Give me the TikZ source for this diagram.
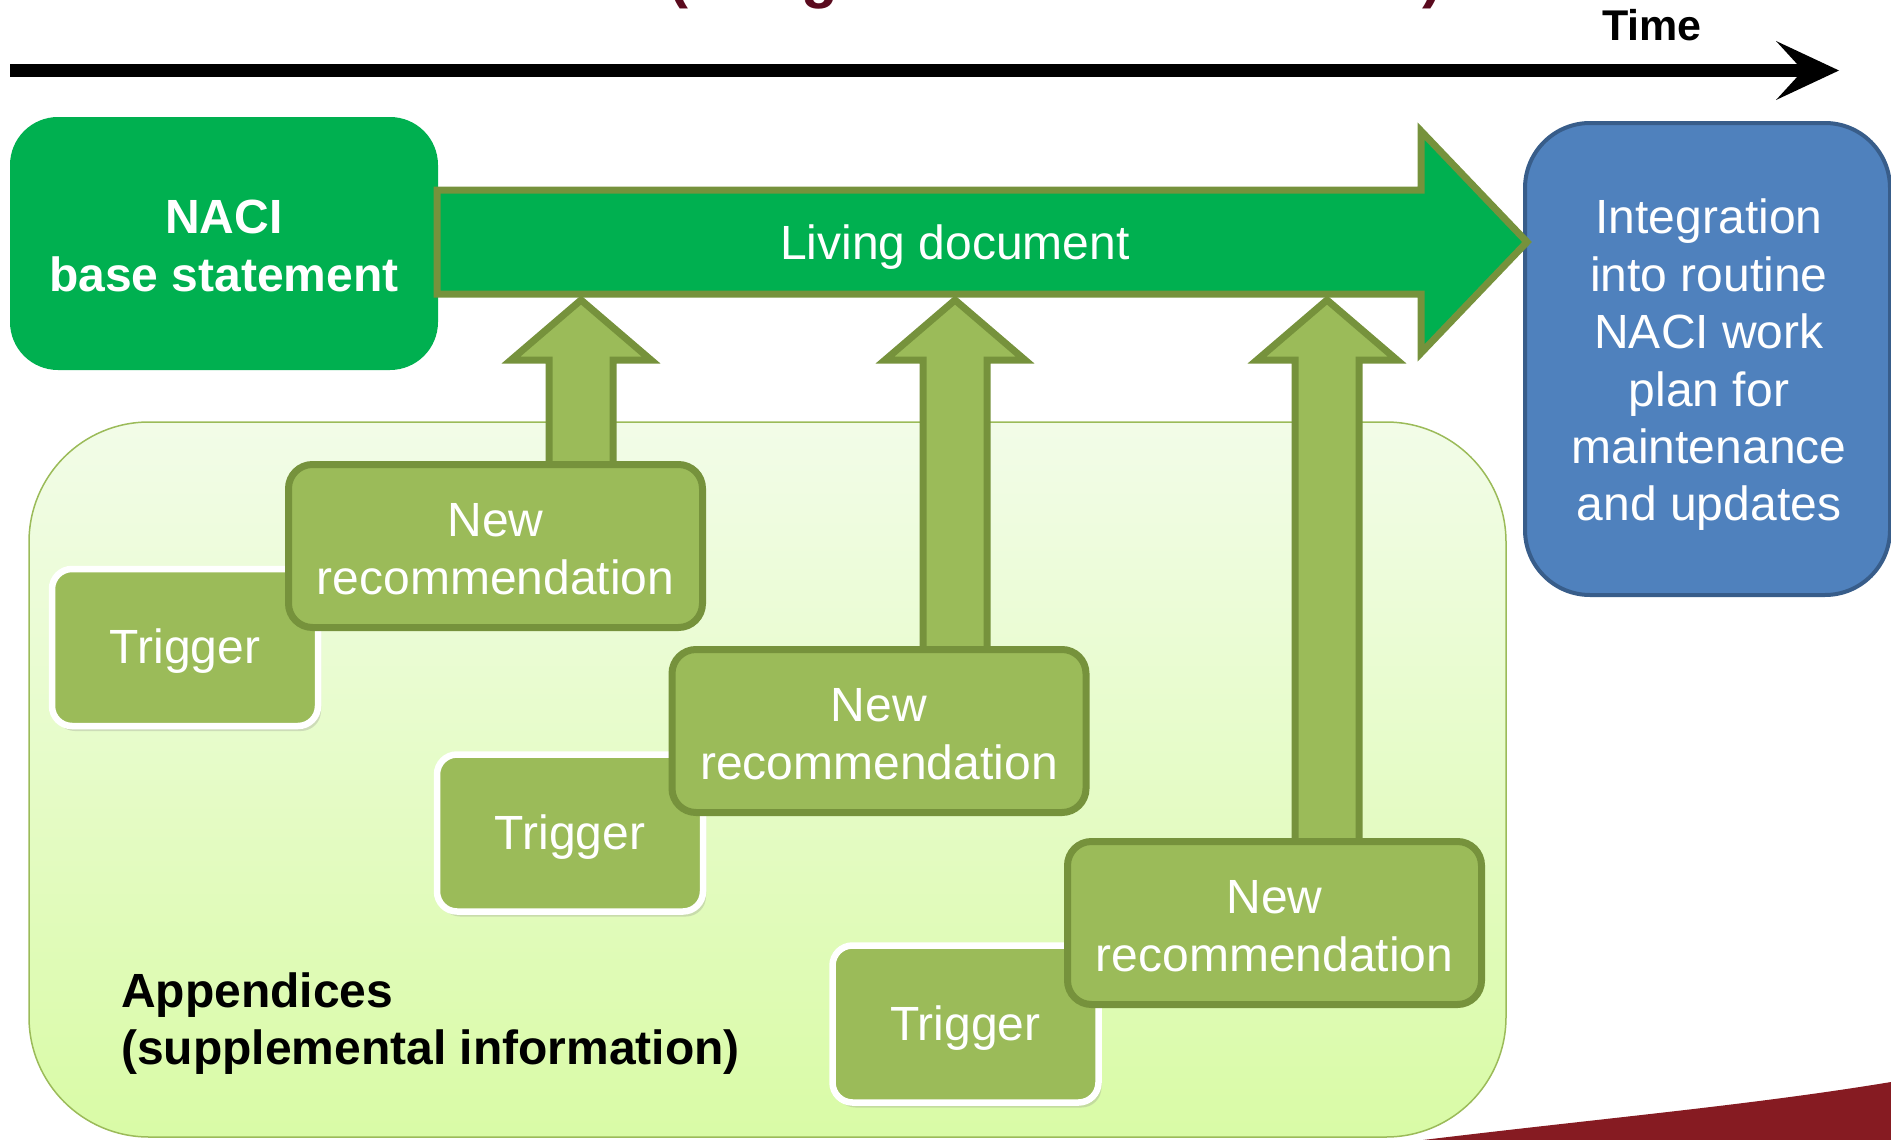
\documentclass[tikz,border=0pt]{standalone}
\usepackage{fontspec}
\setmainfont{Liberation Sans}
\usetikzlibrary{calc,shadows}
\pgfdeclarelayer{back}
\pgfdeclarelayer{mid}
\pgfsetlayers{back,mid,main}
\definecolor{nacigreen}{HTML}{00B050}
\definecolor{olivedark}{HTML}{76923C}
\definecolor{lgreen}{HTML}{9BBB59}
\definecolor{bluefill}{HTML}{4F81BD}
\definecolor{bluedraw}{HTML}{385D8A}
\definecolor{apptop}{HTML}{F2FCE8}
\definecolor{appbot}{HTML}{D9FBA6}
\definecolor{swooshred}{HTML}{861B22}
\definecolor{titlemaroon}{HTML}{5A0A1E}
\begin{document}
\begin{tikzpicture}[x=1pt,y=-1pt,
  bigtext/.style={font=\fontsize{48}{57.5}\selectfont, text=white, align=center},
  trigbox/.style={bigtext, fill=lgreen, draw=white, line width=6.5pt, rounded corners=20pt,
    minimum width=266pt, minimum height=157pt, inner sep=0pt,
    drop shadow={opacity=0.25, shadow xshift=3pt, shadow yshift=-5pt}},
  recbox/.style={bigtext, fill=lgreen, draw=olivedark, line width=7pt, rounded corners=24pt,
    minimum width=414pt, minimum height=163pt, inner sep=0pt},
  uparrow/.style={fill=lgreen, draw=olivedark, line width=7pt, line join=miter},
  plain/.style={inner sep=0pt, text=white, align=center},
]
\useasboundingbox (0,0) rectangle (1891,1140);

% cut-off title fragments
\begin{scope}
\clip (0,0) rectangle (1891,1140);
\node[anchor=base, text=titlemaroon, font=\bfseries\fontsize{60}{60}\selectfont, inner sep=0pt] (tpa) at (678,-3) {(};
\node[anchor=base, text=titlemaroon, font=\bfseries\fontsize{60}{60}\selectfont, inner sep=0pt] (tpb) at (820,-3) {g};
\node[anchor=base, text=titlemaroon, font=\bfseries\fontsize{60}{60}\selectfont, inner sep=0pt] (tpc) at (1432,-3) {)};
\end{scope}

% appendices container and triggers
\begin{pgfonlayer}{back}
\node[draw=lgreen, line width=1.5pt, rounded corners=120pt, top color=apptop, bottom color=appbot,
  minimum width=1477pt, minimum height=715pt, inner sep=0pt] (app) at (767.5,779.5) {};
\node[trigbox] (t1) at (185,647.5) {};
\node[trigbox] (t2) at (570,833) {};
\node[trigbox] (t3) at (965.5,1024) {};
\end{pgfonlayer}
\node[plain, bigtext] (t1l) at ([yshift=-4pt]t1.center) {Trigger};
\node[plain, bigtext] (t2l) at ([yshift=-4pt]t2.center) {Trigger};
\node[plain, bigtext] (t3l) at ([yshift=-4pt]t3.center) {Trigger};

\node[anchor=west, align=left, font=\bfseries\fontsize{48}{57}\selectfont, inner sep=0pt] (applbl) at (121,1024) {Appendices\\(supplemental information)};

% new recommendation boxes
\node[recbox] (r1) at (495.5,546) {};
\node[recbox] (r2) at (879,731) {};
\node[recbox] (r3) at (1274.5,923) {};
\node[plain, bigtext] (r1l) at ([yshift=-3pt]r1.center) {New\\recommendation};
\node[plain, bigtext] (r2l) at ([yshift=-3pt]r2.center) {New\\recommendation};
\node[plain, bigtext] (r3l) at ([yshift=-3pt]r3.center) {New\\recommendation};

% NACI base statement
\node[fill=nacigreen, rounded corners=48pt, minimum width=428pt, minimum height=253pt,
  inner sep=0pt] (naci) at (224,243.5) {};
\node[plain, font=\bfseries\fontsize{48}{58}\selectfont] (nacil) at ([yshift=-2pt]naci.center) {NACI\\base statement};

% integration box
\node[fill=bluefill, draw=bluedraw, line width=4pt, rounded corners=65pt,
  minimum width=365pt, minimum height=472pt, inner sep=0pt] (integ) at (1707.5,359) {};
\node[plain, font=\fontsize{48}{57.4}\selectfont] (integl) at (1709,365)
  {Integration\\into routine\\NACI work\\plan for\\maintenance\\and updates};

% living document arrow
\coordinate (ldtip) at (1527,242);
\draw[fill=nacigreen, draw=olivedark, line width=7pt, line join=miter]
  (437,190) -- (1421,190) -- (1421,131) -- (ldtip) -- (1421,353) -- (1421,294) -- (437,294) -- cycle;
\node[plain, bigtext] (ld) at (955,247) {Living document};

% up arrows
\coordinate (tip1) at (581,300);
\coordinate (tip2) at (955,300);
\coordinate (tip3) at (1327,300);
\begin{pgfonlayer}{mid}
\foreach \t/\r in {tip1/r1, tip2/r2, tip3/r3}{
  \draw[uparrow] ($(\t|-\r.north)+(-32,8)$) -- ($(\t)+(-32,60)$) -- ($(\t)+(-70,60)$) -- (\t)
    -- ($(\t)+(70,60)$) -- ($(\t)+(32,60)$) -- ($(\t|-\r.north)+(32,8)$);
}
\end{pgfonlayer}

% time axis
\coordinate (ts) at (10,70.5);
\coordinate (te) at (1839,70.5);
\draw[line width=13pt] (ts) -- ($(te)+(-30,0)$);
\fill ($(te)+(-63,-29.5)$) -- (te) -- ($(te)+(-63,29.5)$) -- ($(te)+(-36,0)$) -- cycle;
\node[anchor=base, font=\bfseries\fontsize{43}{43}\selectfont, inner sep=0pt] (time) at (1652,41) {Time};

% red swoosh
\fill[swooshred] (1423,1140) .. controls (1605,1118) and (1752,1105) .. (1891,1082) -- (1891,1140) -- cycle;
\end{tikzpicture}
\end{document}
